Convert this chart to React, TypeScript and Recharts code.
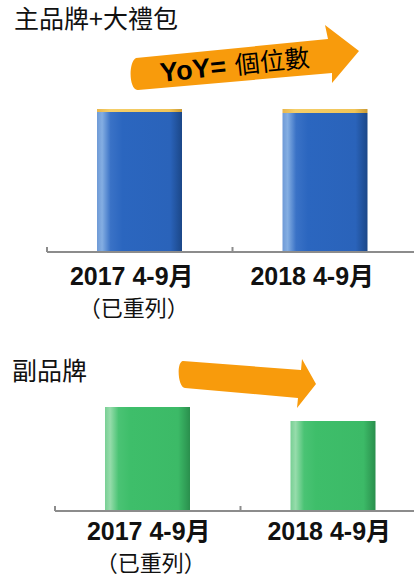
import { Bar, BarChart, XAxis, YAxis } from 'recharts';

const periods = ['2017 4-9月', '2018 4-9月'];
const periodNotes = ['（已重列）', ''];
const mainBrand = [140, 139];
const giftPack = [3, 4];
const subBrand = [104, 90];

const mainData = periods.map((period, i) => ({ period, main: mainBrand[i], gift: giftPack[i] }));
const subData = periods.map((period, i) => ({ period, sub: subBrand[i] }));

const AXIS = '#8c8c8c';
const ORANGE = '#f89b0c';
const LABEL_FONT = '"Liberation Sans", "Noto Sans CJK TC", sans-serif';
const CJK_FONT = '"Noto Sans CJK TC", sans-serif';

const CHART_W = 430;

type TickProps = {
  x?: number;
  y?: number;
  payload?: { value: string };
  band: number;
  dy: number;
  offsets: number[];
};

function PeriodTick({ x = 0, y = 0, payload, band, dy, offsets }: TickProps) {
  const idx = periods.indexOf(payload?.value ?? '');
  const note = periodNotes[idx];
  const tx = x + (offsets[idx] ?? 0);
  return (
    <g>
      <line x1={x - band / 2} x2={x - band / 2} y1={y - 5} y2={y} stroke={AXIS} strokeWidth={2} />
      {idx === periods.length - 1 && (
        <line x1={x + band / 2} x2={x + band / 2} y1={y - 5} y2={y} stroke={AXIS} strokeWidth={2} />
      )}
      <text x={tx} y={y + dy} textAnchor="middle" fontFamily={LABEL_FONT} fontWeight={700} fontSize={25} fill="#111">
        {payload?.value}
      </text>
      {note && (
        <text x={tx + 2} y={y + dy + 31} textAnchor="middle" fontFamily={CJK_FONT} fontSize={22} fill="#111">
          {note}
        </text>
      )}
    </g>
  );
}

export default function App() {
  const topMargin = { top: 52, right: 12, left: 47, bottom: 18 };
  const subMargin = { top: 21, right: 4, left: 55, bottom: 7 };
  const topBand = (CHART_W - topMargin.left - topMargin.right) / 2;
  const subBand = (CHART_W - subMargin.left - subMargin.right) / 2;

  return (
    <div style={{ position: 'absolute', left: 0, top: 0, width: 414, height: 578, overflow: 'hidden', background: '#fff' }}>
      <svg width={0} height={0} style={{ position: 'absolute' }}>
        <defs>
          <linearGradient id="blueFill" x1="0" y1="0" x2="1" y2="0">
            <stop offset="0%" stopColor="#6f9ad6" />
            <stop offset="6%" stopColor="#84aee2" />
            <stop offset="16%" stopColor="#3a72c6" />
            <stop offset="30%" stopColor="#2b66bf" />
            <stop offset="86%" stopColor="#2a63ba" />
            <stop offset="100%" stopColor="#1b4788" />
          </linearGradient>
          <linearGradient id="goldFill" x1="0" y1="0" x2="1" y2="0">
            <stop offset="0%" stopColor="#e8b64c" />
            <stop offset="15%" stopColor="#f5cf6a" />
            <stop offset="85%" stopColor="#f0c458" />
            <stop offset="100%" stopColor="#c99a36" />
          </linearGradient>
          <linearGradient id="greenFill" x1="0" y1="0" x2="1" y2="0">
            <stop offset="0%" stopColor="#78cf94" />
            <stop offset="6%" stopColor="#96dcab" />
            <stop offset="16%" stopColor="#4ac374" />
            <stop offset="30%" stopColor="#3ebe6a" />
            <stop offset="86%" stopColor="#3cba67" />
            <stop offset="100%" stopColor="#2a8f4d" />
          </linearGradient>
        </defs>
      </svg>

      <div style={{ position: 'absolute', left: 0, top: 0 }}>
        <BarChart width={CHART_W} height={330} data={mainData} margin={topMargin}>
          <YAxis hide domain={[0, 200]} />
          <XAxis
            dataKey="period"
            height={60}
            axisLine={{ stroke: AXIS, strokeWidth: 2 }}
            tickLine={false}
            tickSize={0}
            tickMargin={0}
            interval={0}
            tick={<PeriodTick band={topBand} dy={33} offsets={[-8, -13]} />}
          />
          <Bar dataKey="main" stackId="a" fill="url(#blueFill)" barSize={85} isAnimationActive={false} />
          <Bar dataKey="gift" stackId="a" fill="url(#goldFill)" barSize={85} isAnimationActive={false} />
        </BarChart>
      </div>

      <div style={{ position: 'absolute', left: 0, top: 290 }}>
        <BarChart width={CHART_W} height={288} data={subData} margin={subMargin}>
          <YAxis hide domain={[0, 200]} />
          <XAxis
            dataKey="period"
            height={60}
            axisLine={{ stroke: AXIS, strokeWidth: 2 }}
            tickLine={false}
            tickSize={0}
            tickMargin={0}
            interval={0}
            tick={<PeriodTick band={subBand} dy={29} offsets={[1, -4]} />}
          />
          <Bar dataKey="sub" fill="url(#greenFill)" barSize={85} isAnimationActive={false} />
        </BarChart>
      </div>

      <svg width={414} height={578} style={{ position: 'absolute', left: 0, top: 0, pointerEvents: 'none' }}>
        <text x={14} y={28} fontFamily={CJK_FONT} fontSize={25} fill="#111">
          主品牌+大禮包
        </text>
        <text x={12} y={380} fontFamily={CJK_FONT} fontSize={25} fill="#111">
          副品牌
        </text>

        {/* growth arrow, top */}
        <path
          d="M136 58 L328 39 L325 25 L359 51 L332 83 L332 73 L138 90 C129 91 128 62 136 58 Z"
          fill={ORANGE}
        />
        <text x={161} y={82} transform="rotate(-6 161 82)" fill="#000">
          <tspan fontFamily={LABEL_FONT} fontWeight={700} fontSize={27}>YoY=</tspan>
          <tspan dx={9} fontFamily={CJK_FONT} fontSize={25}>個位數</tspan>
        </text>

        {/* decline arrow, bottom */}
        <path
          d="M183 361 L301 370 L302 359 L316 384 L297 408 L298 398 L185 388 C178 388 176 362 183 361 Z"
          fill={ORANGE}
        />
      </svg>
    </div>
  );
}
